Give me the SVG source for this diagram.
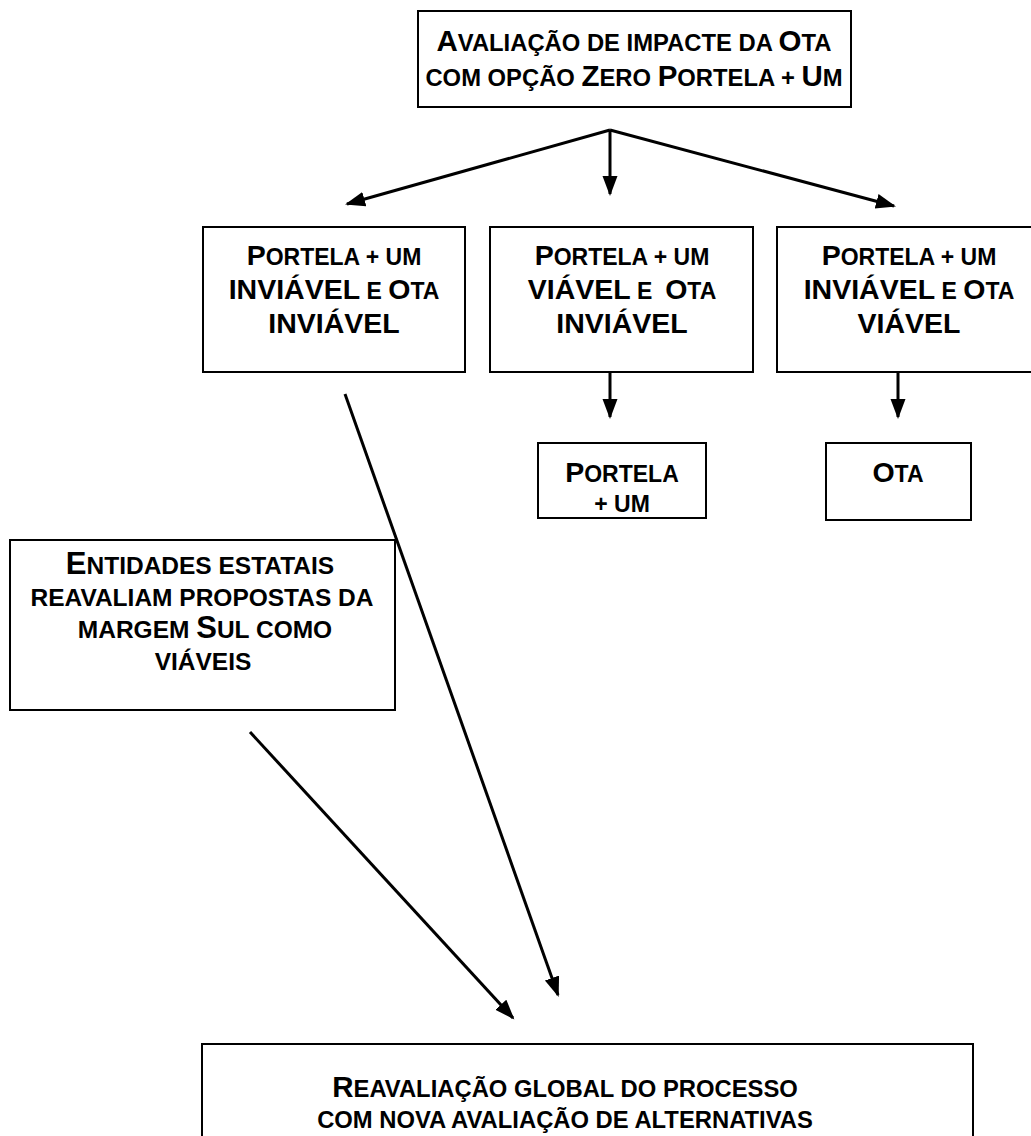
<svg xmlns="http://www.w3.org/2000/svg" width="1031" height="1136" viewBox="0 0 1031 1136">
<style>
.box{fill:#fff;stroke:#000;stroke-width:2}
.t{font-family:"Liberation Sans",Arial,sans-serif;font-weight:bold;font-size:23px;fill:#000;text-anchor:middle;white-space:pre}
.L{font-size:28.5px}
.tt{font-size:23.8px}
.tt .L{font-size:29.5px}
.te{font-size:24.5px}
.te .L{font-size:31px}
.c{stroke:#000;stroke-width:3;fill:none;marker-end:url(#ah)}
</style>
<defs>
<marker id="ah" markerUnits="userSpaceOnUse" markerWidth="22" markerHeight="16" refX="18" refY="7.5" orient="auto">
<path d="M0,0 L20,7.5 L0,15 z" fill="#000"/>
</marker>
</defs>
<g id="n-top">
<rect class="box" x="418" y="11" width="433" height="96"/>
<text class="t tt" x="634" y="51"><tspan class="L">A</tspan>VALIAÇÃO DE IMPACTE DA <tspan class="L">O</tspan>TA</text>
<text class="t tt" x="634" y="86">COM OPÇÃO <tspan class="L">Z</tspan>ERO <tspan class="L">P</tspan>ORTELA + <tspan class="L">U</tspan>M</text>
</g>
<g id="n-a">
<rect class="box" x="203" y="227" width="262" height="145"/>
<text class="t" x="334" y="265"><tspan class="L">P</tspan>ORTELA + UM</text>
<text class="t" x="334" y="299"><tspan class="L">INVIÁVEL</tspan> E <tspan class="L">O</tspan>TA</text>
<text class="t L" x="334" y="333">INVIÁVEL</text>
</g>
<g id="n-b">
<rect class="box" x="490" y="227" width="263" height="145"/>
<text class="t" x="622" y="265"><tspan class="L">P</tspan>ORTELA + UM</text>
<text class="t" x="622" y="299"><tspan class="L">VIÁVEL</tspan> E  <tspan class="L">O</tspan>TA</text>
<text class="t L" x="622" y="333">INVIÁVEL</text>
</g>
<g id="n-c">
<rect class="box" x="777" y="227" width="264" height="145"/>
<text class="t" x="909" y="265"><tspan class="L">P</tspan>ORTELA + UM</text>
<text class="t" x="909" y="299"><tspan class="L">INVIÁVEL</tspan> E <tspan class="L">O</tspan>TA</text>
<text class="t L" x="909" y="333">VIÁVEL</text>
</g>
<g id="n-pm">
<rect class="box" x="538" y="443" width="168" height="75"/>
<text class="t" x="622" y="482"><tspan class="L">P</tspan>ORTELA</text>
<text class="t" x="622" y="512">+ UM</text>
</g>
<g id="n-ota">
<rect class="box" x="826" y="443" width="145" height="77"/>
<text class="t" x="898" y="482"><tspan class="L">O</tspan>TA</text>
</g>
<g id="n-ent">
<rect class="box" x="10" y="540" width="385" height="170"/>
<text class="t te" x="200" y="574"><tspan class="L">E</tspan>NTIDADES ESTATAIS</text>
<text class="t te" x="202" y="606">REAVALIAM PROPOSTAS DA</text>
<text class="t te" x="205" y="638">MARGEM <tspan class="L">S</tspan>UL COMO</text>
<text class="t te" x="203" y="670">VIÁVEIS</text>
</g>
<g id="n-reav">
<rect class="box" x="202" y="1044" width="771" height="110"/>
<text class="t tt" x="565" y="1097"><tspan class="L">R</tspan>EAVALIAÇÃO GLOBAL DO PROCESSO</text>
<text class="t tt" x="565" y="1128">COM NOVA AVALIAÇÃO DE ALTERNATIVAS</text>
</g>
<g id="connectors">
<line class="c" x1="610" y1="130" x2="347" y2="204"/>
<line class="c" x1="610" y1="130" x2="610" y2="194"/>
<line class="c" x1="610" y1="130" x2="894" y2="206"/>
<line class="c" x1="610" y1="372" x2="610" y2="417"/>
<line class="c" x1="898" y1="372" x2="898" y2="417"/>
<line class="c" x1="345" y1="394" x2="558" y2="995"/>
<line class="c" x1="250" y1="732" x2="513" y2="1018"/>
</g>
</svg>
